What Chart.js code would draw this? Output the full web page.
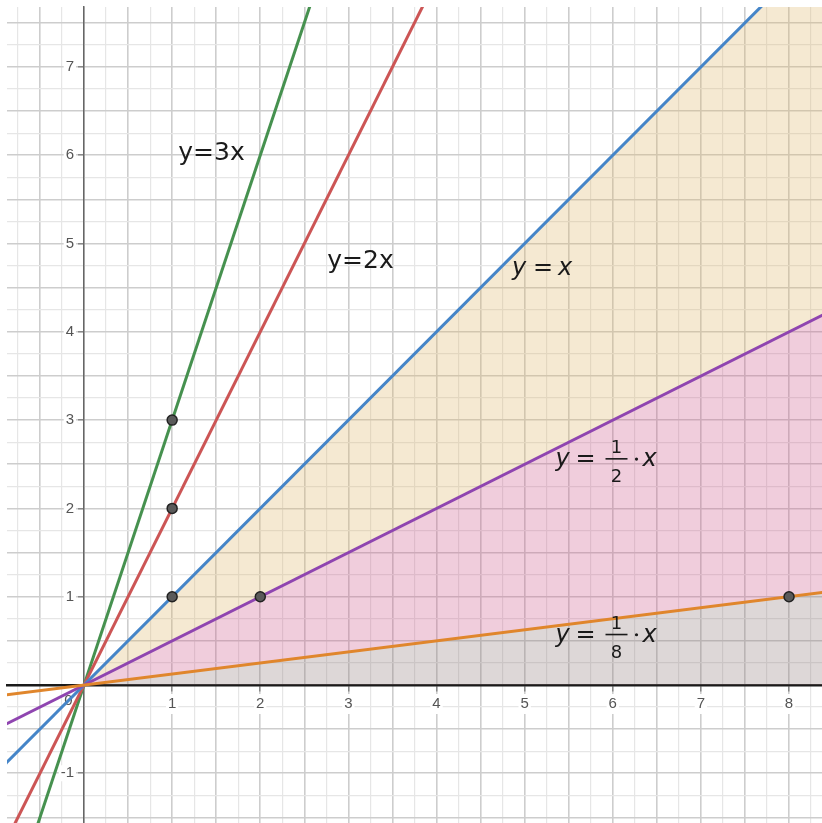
<!DOCTYPE html>
<html>
<head>
<meta charset="utf-8">
<script src="https://cdn.jsdelivr.net/npm/chart.js@4.4.1/dist/chart.umd.min.js"></script>
<style>
  html, body { margin: 0; padding: 0; background: #fff; }
  #wrap { width: 822px; height: 823px; }
</style>
</head>
<body>
<div id="wrap"><canvas id="plot" width="822" height="823"></canvas></div>
<script>
// x at both ends of every drawn line, and each line's y there
const lineX = [-1, 8.5];
const y3x = [-3, 25.5];
const y2x = [-2, 17];
const yx = [-1, 8.5];
const yHalfX = [-0.5, 4.25];
const yEighthX = [-0.125, 1.0625];

// shaded wedges, origin to the right edge
const wedgeX = [0, 8.5];
const wedgeTop = [0, 8.5];
const wedgeMid = [0, 4.25];
const wedgeLow = [0, 1.0625];

// marked points
const dotX = [1, 1, 1, 2, 8];
const dotY = [3, 2, 1, 1, 1];

// visible window and tick labels
const xRange = [-0.874, 8.374];
const yRange = [-1.563, 7.679];
const xTickLabels = [1, 2, 3, 4, 5, 6, 7, 8];
const yTickLabels = [-1, 1, 2, 3, 4, 5, 6, 7];

const pts = (xs, ys) => xs.map((x, i) => ({ x: x, y: ys[i] }));
const near = (a, b) => Math.abs(a - b) < 1e-6;
const isHalf = v => near(v * 2, Math.round(v * 2));
const isInt = v => near(v, Math.round(v));

function lineSet(data, color) {
  return {
    data: pts(lineX, data), borderColor: color, borderWidth: 3,
    pointRadius: 0, fill: false, order: 1, clip: 0
  };
}

function wedge(data, bg, fill) {
  return {
    data: pts(wedgeX, data), borderWidth: 0, borderColor: 'rgba(0,0,0,0)',
    backgroundColor: bg, pointRadius: 0, fill: fill, order: 5, clip: 0
  };
}

const gridOpts = {
  color: c => (c.tick && isHalf(c.tick.value)) ? '#cdcdcd' : '#e6e6e6',
  lineWidth: c => (c.tick && isHalf(c.tick.value)) ? 1.6 : 1.2,
  drawTicks: true,
  tickLength: 5,
  tickWidth: 1.2,
  tickColor: c => (c.tick && isInt(c.tick.value) && c.tick.value !== 0) ? '#777' : 'rgba(0,0,0,0)'
};

const tickFont = '15px "Liberation Sans"';

// axes sit inside the plot, so they should not steal room at the edges
function noEdgePadding(scale) {
  scale.paddingLeft = 0;
  scale.paddingRight = 0;
  scale.paddingTop = 0;
  scale.paddingBottom = 0;
}

function txt(ctx, s, x, y, font, align) {
  ctx.font = font;
  ctx.textAlign = align || 'left';
  ctx.fillText(s, x, y);
}

function boxedLabel(ctx, s, right, mid) {
  ctx.font = tickFont;
  const w = ctx.measureText(s).width;
  ctx.fillStyle = '#fff';
  ctx.fillRect(right - w - 2, mid - 8, w + 4, 16);
  ctx.fillStyle = '#555';
  ctx.textAlign = 'right';
  ctx.textBaseline = 'middle';
  ctx.fillText(s, right, mid);
}

// y tick labels sit a little left of the axis; "0" sits below-left of the origin
const axisLabels = {
  id: 'axisLabels',
  beforeDatasetsDraw(chart) {
    const { ctx, scales: { x, y } } = chart;
    const axisX = x.getPixelForValue(0);
    ctx.save();
    y.ticks.forEach(t => {
      if (yTickLabels.some(v => near(v, t.value))) {
        boxedLabel(ctx, String(Math.round(t.value)), axisX - 10, y.getPixelForValue(t.value));
      }
    });
    boxedLabel(ctx, '0', x.getPixelForValue(-0.13), y.getPixelForValue(-0.18));
    ctx.restore();
  }
};

// curve names placed at data coordinates
const curveLabels = {
  id: 'curveLabels',
  afterDatasetsDraw(chart) {
    const { ctx, scales: { x, y } } = chart;
    const up = '25px "DejaVu Sans"';
    const it = 'oblique 24px "DejaVu Sans"';
    const eq = '24px "DejaVu Sans"';
    const fr = '18px "DejaVu Sans"';
    ctx.save();
    ctx.fillStyle = '#1a1a1a';
    ctx.textBaseline = 'alphabetic';

    txt(ctx, 'y=3x', x.getPixelForValue(1.07), y.getPixelForValue(5.95), up);
    txt(ctx, 'y=2x', x.getPixelForValue(2.76), y.getPixelForValue(4.72), up);

    let ax = x.getPixelForValue(4.857), ay = y.getPixelForValue(4.644);
    txt(ctx, 'y', ax, ay, it);
    txt(ctx, '=', ax + 21, ay, eq);
    txt(ctx, 'x', ax + 46, ay, it);

    [[2.48, '2'], [0.49, '8']].forEach(([yv, den]) => {
      const bx = x.getPixelForValue(5.35), by = y.getPixelForValue(yv);
      txt(ctx, 'y', bx, by, it);
      txt(ctx, '=', bx + 20, by, eq);
      ctx.fillRect(bx + 50, by - 8, 22, 1.6);
      txt(ctx, '1', bx + 61, by - 13, fr, 'center');
      txt(ctx, den, bx + 61, by + 16, fr, 'center');
      ctx.beginPath();
      ctx.arc(bx + 81, by - 7, 1.6, 0, Math.PI * 2);
      ctx.fill();
      txt(ctx, 'x', bx + 87, by, it);
    });
    ctx.restore();
  }
};

new Chart(document.getElementById('plot'), {
  type: 'line',
  data: {
    datasets: [
      wedge(wedgeTop, 'rgba(222,182,105,0.3)', '+1'),
      wedge(wedgeMid, 'rgba(205,88,138,0.3)', '+1'),
      wedge(wedgeLow, 'rgba(142,122,122,0.3)', 'origin'),
      lineSet(yEighthX, '#e0862c'),
      lineSet(yHalfX, '#8f45b0'),
      lineSet(yx, '#4585c8'),
      lineSet(y2x, '#cc5555'),
      lineSet(y3x, '#46914f'),
      {
        data: pts(dotX, dotY), showLine: false, pointRadius: 5,
        pointBackgroundColor: '#5a5a5a', pointBorderColor: '#222',
        pointBorderWidth: 1.5, order: 0, clip: 0
      }
    ]
  },
  options: {
    responsive: false,
    animation: false,
    devicePixelRatio: 1,
    layout: { autoPadding: false, padding: { left: 7, top: 7, right: 0, bottom: 0 } },
    plugins: { legend: { display: false }, tooltip: { enabled: false } },
    scales: {
      x: {
        type: 'linear', min: xRange[0], max: xRange[1], position: { y: 0 },
        ticks: {
          stepSize: 0.25, autoSkip: false, includeBounds: false, maxRotation: 0,
          callback: v => xTickLabels.some(t => near(t, v)) ? String(Math.round(v)) : '',
          color: '#555',
          font: { family: 'Liberation Sans', size: 15 },
          padding: 5,
          showLabelBackdrop: c => !!c.tick && xTickLabels.some(t => near(t, c.tick.value)),
          backdropColor: '#fff',
          backdropPadding: { x: 2, y: 1 }
        },
        grid: gridOpts,
        border: { color: '#1a1a1a', width: 2.5 },
        afterFit: noEdgePadding
      },
      y: {
        type: 'linear', min: yRange[0], max: yRange[1], position: { x: 0 },
        ticks: {
          stepSize: 0.25, autoSkip: false, includeBounds: false,
          callback: () => ''
        },
        grid: gridOpts,
        border: { color: '#666', width: 1.5 },
        afterFit: noEdgePadding
      }
    }
  },
  plugins: [axisLabels, curveLabels]
});
</script>
</body>
</html>
